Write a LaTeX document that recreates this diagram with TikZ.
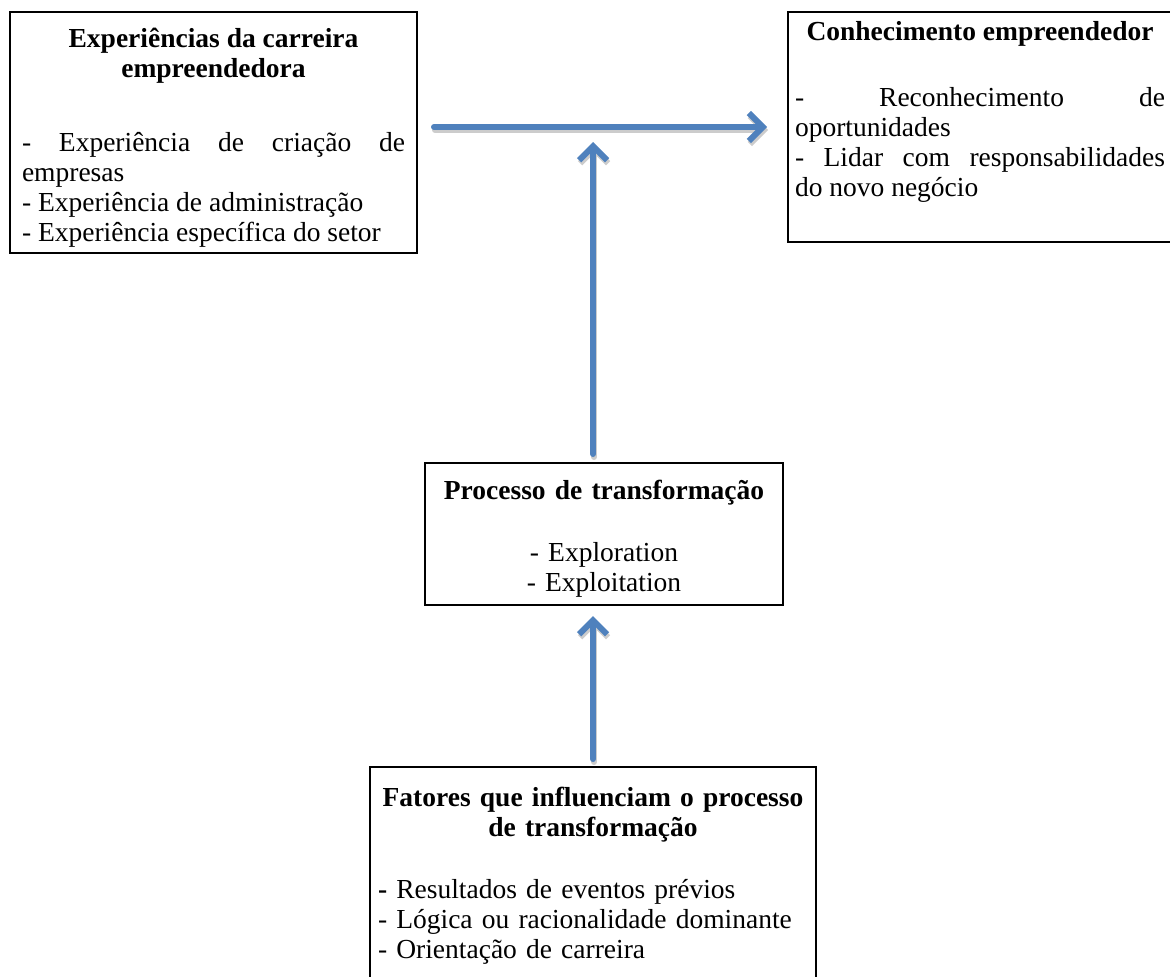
\documentclass[tikz,border=0pt]{standalone}
\usepackage{fontspec}
\setmainfont{Liberation Serif}
\usepackage{tikz}
\usetikzlibrary{calc,arrows.meta}
\definecolor{arrowblue}{RGB}{79,129,189}
\hyphenpenalty=10000

\begin{document}
\begin{tikzpicture}[x=0.5pt,y=-0.5pt,
  box/.style={draw, line width=1pt, inner sep=0pt,
    font=\fontsize{13.75}{15}\selectfont},
  flow/.style={arrowblue, line width=3pt, line cap=round,
    -{Straight Barb[length=7pt,width=14pt]}},
  flowshadow/.style={flow, black!20, transform canvas={xshift=0.5pt,yshift=-1.5pt}}]
  \useasboundingbox (0,0) rectangle (1170,976);

  %% Boxes
  \node[box, align=justify, minimum width=203.5pt, minimum height=120.5pt,
    text width=191.5pt] (A) at (213.5,132.5)
  {{\centering\bfseries\rule{0pt}{14.5pt}Experiências da carreira\\ empreendedora\par}\vspace{22pt}
   - Experiência de criação de\linebreak empresas\par
   - Experiência de administração\par
   - Experiência específica do setor};

  \node[box, align=justify, minimum width=192pt, minimum height=115pt,
    text width=185pt] (B) at (980,127)
  {{\centering\bfseries\rule{0pt}{12.5pt}Conhecimento empreendedor\par}\vspace{18pt}
   - Reconhecimento de\linebreak oportunidades\par
   - Lidar com responsabilidades\linebreak do novo negócio\par
   \vspace{6pt}\hbox{}};

  \node[box, align=center, minimum width=179pt, minimum height=71pt,
    text width=165pt] (C) at (604,534)
  {{\bfseries\rule{0pt}{14.5pt}Processo de transformação\par}\vspace{16pt}
   - Exploration\\ - Exploitation};

  \node[box, align=left, minimum width=223pt, minimum height=109pt,
    text width=215pt] (D) at (593,876)
  {{\centering\bfseries Fatores que influenciam o processo\\ de transformação\par}\vspace{16pt}
   \textbf{-} Resultados de eventos prévios\\
   - Lógica ou racionalidade dominante\\
   - Orientação de carreira};

  %% Arrows (shadow first)
  \coordinate (hit) at (593,142);
  \foreach \sty in {flowshadow,flow}
  {
    \draw[\sty, shorten <=8pt, shorten >=10pt] (A.east |- B.west) -- (B.west);
    \draw[\sty, shorten <=4pt] (C.north -| hit) -- (hit);
    \draw[\sty, shorten <=3.5pt, shorten >=5pt] (D.north) -- (D.north |- C.south);
  }
\end{tikzpicture}
\end{document}
